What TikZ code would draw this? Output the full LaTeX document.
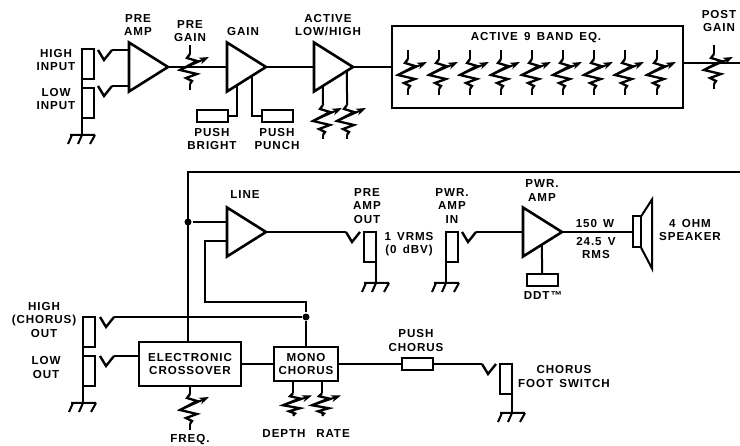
\documentclass[tikz,border=0pt]{standalone}
\usepackage{fontspec}
\setmainfont{Liberation Sans}[LetterSpace=8,WordSpace=1.5]
\usetikzlibrary{calc,
	positioning,
	shapes,
	arrows.meta}
\tikzstyle{lbl}=[font=\fontsize{11.6}{13.5}\selectfont\bfseries, align=center, inner sep=0]
\tikzstyle{amp}=[draw, isosceles triangle, isosceles triangle stretches, minimum width=49pt, minimum height=39pt, inner sep=0, outer sep=0, line width=2.6pt, anchor=lower side]
\tikzstyle{jack}=[draw, minimum width=12pt, minimum height=30pt, inner sep=0, outer sep=0, anchor=north west]
\tikzstyle{sw}=[draw, minimum width=31pt, minimum height=12pt, inner sep=0, outer sep=0]
\tikzstyle{blk}=[draw, lbl, inner sep=0, outer sep=0, line width=2.4pt]
\tikzstyle{jn}=[circle, fill=black, minimum size=7pt, inner sep=0]
\tikzset{
	pot/.pic={
		\coordinate (-top) at (0,-13);
		\coordinate (-bot) at (0,17);
		\draw[line width=2.3pt] (-top) -- (-3,-9) -- (7,-6) -- (-10,3) -- (7,7) -- (-4,11) -- (2,14) -- (-bot);
		\draw[-{Stealth[length=10pt,width=7pt]}] (-10,3) -- (19,-10);
	},
	gnd/.pic={
		\draw (-12,0) -- (13,0) (-10,0) -- (-14,9) (0,0) -- (-4,9) (13,0) -- (8,9);
	},
	plug/.pic={
		\coordinate (-in) at (0,0);
		\coordinate (-out) at (14,0);
		\draw[line width=2.4pt] (-in) -- (6,10) -- (-out);
	}
}
\begin{document}
\begin{tikzpicture}[x=1pt, y=-1pt, line width=2pt]
	\useasboundingbox (0,0) rectangle (740,446);
	% input stage
	\node[jack] (hiin) at (82,49) {};
	\node[jack] (loin) at (82,88) {};
	\coordinate (gndin) at (82,135);
	\pic at (gndin) {gnd};
	\draw (hiin.south west) -- (loin.north west);
	\draw (loin.south west) -- (gndin);
	\pic (hiplug) at (98,50) {plug};
	\pic (loplug) at (98,86) {plug};
	\node[lbl] (hiinlbl) at (56,60) {HIGH\\INPUT};
	\node[lbl] (loinlbl) at (56,99) {LOW\\INPUT};
	\node[amp] (preamp) at (129,67) {};
	\node[lbl] (preamplbl) at (138,25) {PRE\\AMP};
	\draw (hiplug-out) -- (hiplug-out -| preamp.lower side);
	\draw (loplug-out) -- (loplug-out -| preamp.lower side);
	\pic (pregain) at (190,67) {pot};
	\draw (pregain-top) -- ++(0,-9);
	\draw (pregain-bot) -- ++(0,6);
	\node[lbl] (pregainlbl) at (190,31) {PRE\\GAIN};
	\node[amp] (gain) at (227,67) {};
	\node[lbl] (gainlbl) at (243,32) {GAIN};
	\draw (preamp.apex) -- (gain.lower side);
	\node[sw] (bright) at (212.5,116) {};
	\node[sw] (punch) at (277,116) {};
	\node[lbl] (brightlbl) at (212,139) {PUSH\\BRIGHT};
	\node[lbl] (punchlbl) at (277,139) {PUSH\\PUNCH};
	\draw ($(gain.right corner)!.256!(gain.apex)$) |- (bright.east);
	\draw ($(gain.right corner)!.64!(gain.apex)$) |- (punch.west);
	\node[amp] (active) at (314,67) {};
	\node[lbl] (activelbl) at (328,25) {ACTIVE\\LOW/HIGH};
	\draw (gain.apex) -- (active.lower side);
	\pic (low) at (323,118) {pot};
	\pic (high) at (347,118) {pot};
	\draw (low-top) -- ($(active.right corner)!.23!(active.apex)$);
	\draw (high-top) -- ($(active.right corner)!.846!(active.apex)$);
	\draw (low-bot) -- ++(0,4);
	\draw (high-bot) -- ++(0,4);
	% equaliser
	\node[draw, line width=2.4pt, minimum width=291pt, minimum height=82pt, inner sep=0, outer sep=0] (eq) at (537.5,67) {};
	\node[lbl] (eqlbl) at (536,38) {ACTIVE 9 BAND EQ.};
	\draw (active.apex) -- (active.apex -| eq.west);
	\foreach \bandx [count=\band] in {408,439,470,501,532,563,594,625,657} {
		\pic (eq\band) at (\bandx,72) {pot};
		\draw (eq\band-top) -- ++(0,-9);
		\draw (eq\band-bot) -- ++(0,6);
	}
	\coordinate (eqout) at (740,63);
	\draw (eq.east |- eqout) -- (eqout);
	\pic (postgain) at (714,67) {pot};
	\draw (postgain-top) -- ++(0,-9);
	\draw (postgain-bot) -- ++(0,5);
	\node[lbl] (postgainlbl) at (719,21) {POST\\GAIN};
	% return line and line amp
	\coordinate (topr) at (740,172);
	\coordinate (topl) at (188,172);
	\node[jn] (dotin) at (188,222) {};
	\node[amp] (lineamp) at (227,232) {};
	\node[lbl] (lineamplbl) at (245,195) {LINE};
	\draw (dotin) -- (dotin -| lineamp.lower side);
	\node[lbl] (preoutlbl) at (367,206) {PRE\\AMP\\OUT};
	\pic (preoutplug) at (346,232) {plug};
	\node[jack] (preout) at (364,232) {};
	\draw (lineamp.apex) -- (preoutplug-in);
	\coordinate (gndpre) at (376,283);
	\pic at (gndpre) {gnd};
	\draw (preout.south east) -- (gndpre);
	\node[lbl] (vrmslbl) at (409,244) {1 VRMS\\(0 dBV)};
	% power amp
	\node[lbl] (pwrinlbl) at (452,206) {PWR.\\AMP\\IN};
	\node[jack] (pwrin) at (446,232) {};
	\coordinate (gndpwr) at (446,283);
	\pic at (gndpwr) {gnd};
	\draw (pwrin.south west) -- (gndpwr);
	\pic (pwrplug) at (462,232) {plug};
	\node[amp] (pwramp) at (523,232) {};
	\node[lbl] (pwramplbl) at (542,190.5) {PWR.\\AMP};
	\draw (pwrplug-out) -- (pwramp.lower side);
	\node[sw] (ddt) at (542,280) {};
	\node[lbl] (ddtlbl) at (543,296) {DDT™};
	\draw (ddt.north) -- ($(pwramp.right corner)!.487!(pwramp.apex)$);
	\node[draw, minimum width=8pt, minimum height=31pt, inner sep=0, outer sep=0] (spk) at (637,232) {};
	\draw (pwramp.apex) -- (spk.west);
	\draw (spk.north east) -- ++(11,-17) -- ++(0,69) -- (spk.south east);
	\node[lbl] (wattlbl) at (595,224) {150 W};
	\node[lbl] (voltlbl) at (596,248) {24.5 V\\RMS};
	\node[lbl] (spklbl) at (690,230) {4 OHM\\SPEAKER};
	% outputs and chorus
	\node[jack] (hiout) at (83,317) {};
	\node[jack] (loout) at (83,356) {};
	\coordinate (gndout) at (83,403);
	\pic at (gndout) {gnd};
	\draw (hiout.south west) -- (loout.north west);
	\draw (loout.south west) -- (gndout);
	\node[lbl] (hioutlbl) at (44,320) {HIGH\\(CHORUS)\\OUT};
	\node[lbl] (looutlbl) at (46,367.5) {LOW\\OUT};
	\pic (hioutplug) at (100,317) {plug};
	\pic (looutplug) at (100,356) {plug};
	\node[blk, minimum width=102pt, minimum height=44pt] (xover) at (190,364) {ELECTRONIC\\CROSSOVER};
	\node[blk, minimum width=64pt, minimum height=34pt] (mono) at (306,364) {MONO\\CHORUS};
	\node[jn] (dotchorus) at (306,317) {};
	\draw (topr) -- (topl) -- (topl |- xover.north);
	\draw (hioutplug-out) -- (dotchorus);
	\draw (dotchorus) -- (mono.north);
	\coordinate (lineback) at (227,241);
	\coordinate (fbcorner) at (205,302);
	\draw (lineback) -| (fbcorner) -| (dotchorus);
	\draw (looutplug-out) -- (looutplug-out -| xover.west);
	\draw (xover.east |- mono) -- (mono.west);
	\pic (freq) at (190,407) {pot};
	\draw (xover.south) -- (freq-top);
	\draw (freq-bot) -- ++(0,6);
	\node[lbl] (freqlbl) at (190,440) {FREQ.};
	\pic[yscale=.75] (depth) at (293,403) {pot};
	\pic[yscale=.75] (rate) at (322,403) {pot};
	\draw (depth-top) -- (depth-top |- mono.south);
	\draw (rate-top) -- (rate-top |- mono.south);
	\node[lbl] (depthlbl) at (284,434) {DEPTH};
	\node[lbl] (ratelbl) at (333,434) {RATE};
	\node[sw] (pushch) at (417.5,364) {};
	\node[lbl] (pushchlbl) at (416,340.5) {PUSH\\CHORUS};
	\draw (mono.east) -- (pushch.west);
	\pic (fsplug) at (482,364) {plug};
	\draw (pushch.east) -- (fsplug-in);
	\node[jack] (fsw) at (500,364) {};
	\coordinate (gndfs) at (512,413);
	\pic at (gndfs) {gnd};
	\draw (fsw.south east) -- (gndfs);
	\node[lbl] (fswlbl) at (564,376.5) {CHORUS\\FOOT SWITCH};
\end{tikzpicture}
\end{document}
